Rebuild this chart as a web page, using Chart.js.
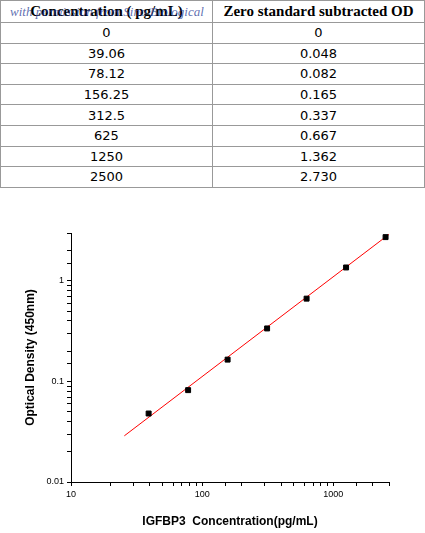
<!DOCTYPE html>
<html>
<head>
<meta charset="utf-8">
<script src="https://cdn.jsdelivr.net/npm/chart.js@4"></script>
<style>
  body { margin: 0; background: #fff; width: 425px; height: 533px; position: relative; overflow: hidden; }
  table { position: absolute; left: 0; top: 0; width: 425px; border-collapse: collapse; font-family: "DejaVu Sans", sans-serif; font-size: 13px; }
  td, th { border: 1px solid #999; text-align: center; height: 19.6px; padding: 0; }
  th { font-family: "Liberation Serif", serif; font-size: 15px; font-weight: bold; height: 21px; width: 50%; }
  .wm { position: absolute; left: 10px; top: 4px; font-family: "Liberation Serif", serif; font-style: italic; font-size: 13px; color: rgba(40,60,150,0.75); }
  #wrap { position: absolute; left: 0; top: 200px; width: 425px; height: 333px; }
</style>
</head>
<body>
<table id="tbl"></table>
<div class="wm">with permission from Sino Biological</div>
<div id="wrap"><canvas id="myChart"></canvas></div>
<script>
const headers = ['Concentration ( pg/mL)', 'Zero standard subtracted OD'];
const concLabels = ['0', '39.06', '78.12', '156.25', '312.5', '625', '1250', '2500'];
const odLabels = ['0', '0.048', '0.082', '0.165', '0.337', '0.667', '1.362', '2.730'];
const conc = [39.06, 78.12, 156.25, 312.5, 625, 1250, 2500];
const od = [0.048, 0.082, 0.165, 0.337, 0.667, 1.362, 2.730];
const fitX = [25.5, 2655];
const fitY = [0.0288, 2.91];

var tbl = document.getElementById('tbl');
var html = '<tr><th>' + headers[0] + '</th><th>' + headers[1] + '</th></tr>';
concLabels.forEach((c, i) => { html += '<tr><td>' + c + '</td><td>' + odLabels[i] + '</td></tr>'; });
tbl.innerHTML = html;

const decade = (v) => { const l = Math.log10(v); return Math.abs(l - Math.round(l)) < 1e-9; };

var ctx = document.getElementById('myChart').getContext('2d');
var chart = new Chart(ctx, {
    type: 'scatter',
    data: {
        datasets: [{
            data: conc.map((x, i) => ({x: x, y: od[i]})),
            pointStyle: 'rect',
            pointRadius: 3.5,
            backgroundColor: '#000',
            borderColor: '#000',
            order: 0
        }, {
            data: fitX.map((x, i) => ({x: x, y: fitY[i]})),
            showLine: true,
            borderColor: '#ff0000',
            borderWidth: 1,
            pointRadius: 0,
            order: 1
        }]
    },
    options: {
        responsive: true,
        maintainAspectRatio: false,
        animation: false,
        layout: { padding: { top: 33, right: 36, left: 19 } },
        plugins: { legend: { display: false }, tooltip: { enabled: false } },
        scales: {
            x: {
                type: 'logarithmic', min: 10, max: 2655,
                border: { color: '#000' },
                grid: { drawOnChartArea: false, color: '#000', tickLength: 4 },
                ticks: { color: '#000', font: { family: 'Arial', size: 9 }, maxRotation: 0, autoSkip: false,
                         callback: (v) => decade(v) ? String(v) : '' },
                title: { display: true, text: 'IGFBP3  Concentration(pg/mL)', color: '#000', font: { family: 'Arial', size: 12, weight: 'bold' }, padding: { top: 12 } },
                afterFit: (s) => { s.height = 51; }
            },
            y: {
                type: 'logarithmic', min: 0.01, max: 3,
                border: { color: '#000' },
                grid: { drawOnChartArea: false, color: '#000', tickLength: 4 },
                ticks: { color: '#000', font: { family: 'Arial', size: 9 }, autoSkip: false,
                         callback: (v) => decade(v) ? String(v) : '' },
                title: { display: true, text: 'Optical Density (450nm)', color: '#000', font: { family: 'Arial', size: 12, weight: 'bold' } },
                afterFit: (s) => { s.width = 52; }
            }
        }
    }
});
</script>
</body>
</html>
